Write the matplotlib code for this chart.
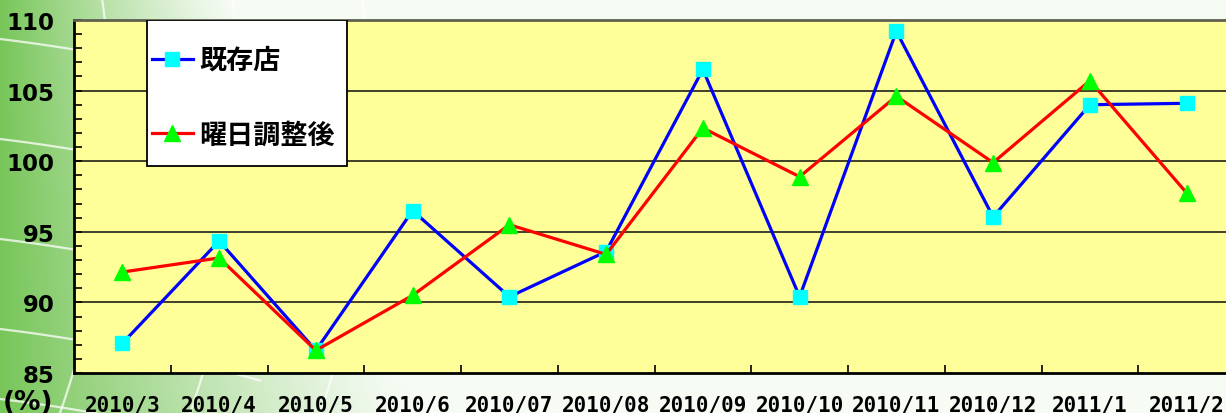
import numpy as np
import matplotlib.pyplot as plt
from matplotlib.patches import Rectangle

plt.rcParams['font.family'] = ['Noto Sans CJK JP', 'DejaVu Sans']

months = ['2010/3', '2010/4', '2010/5', '2010/6', '2010/07', '2010/08',
          '2010/09', '2010/10', '2010/11', '2010/12', '2011/1', '2011/2']
existing = [87.1, 94.35, 86.6, 96.5, 90.4, 93.6, 106.5, 90.4, 109.2, 96.05, 104.0, 104.1]
adjusted = [92.15, 93.15, 86.6, 90.5, 95.5, 93.4, 102.35, 98.9, 104.6, 99.9, 105.7, 97.75]
series_names = ['既存店', '曜日調整後']
yticks = [85, 90, 95, 100, 105, 110]

W, H = 1226, 414
fig = plt.figure(figsize=(W / 100, H / 100), dpi=100)

# green gradient background with a few white arcs on the left
bg = fig.add_axes([0, 0, 1, 1], zorder=-10)
xx, yy = np.meshgrid(np.arange(W), np.arange(H))
g = np.clip(1 - xx / (230 + 0.45 * yy), 0, 1) ** 1.2
green = np.array([120, 198, 90]) / 255
white = np.array([246, 251, 244]) / 255
img = white + (green - white) * g[..., None]
bg.imshow(img, extent=[0, W, H, 0], aspect='auto')
for x0 in [-60, 60, 190, 320]:
    yv = np.linspace(0, H, 50)
    bg.plot(x0 + 0.35 * (H - yv) - 0.0006 * (H - yv) ** 2, yv, color='white', lw=1.6, alpha=0.75)
for y0 in [40, 140, 240, 330, 400]:
    xv = np.linspace(0, 260, 50)
    bg.plot(xv, y0 + 0.12 * xv + 0.0003 * xv ** 2, color='white', lw=1.6, alpha=0.75)
bg.set_xlim(0, W)
bg.set_ylim(H, 0)
bg.axis('off')

ax = fig.add_axes([74 / W, 40 / H, 1161 / W, 353 / H])
ax.set_facecolor('#ffff99')
x = np.arange(len(months))
ax.plot(x, existing, color='#0000ff', lw=2.3, marker='s', ms=10,
        mfc='#00ffff', mec='#00ffff', label=series_names[0], zorder=3)
ax.plot(x, adjusted, color='#ff0000', lw=2.3, marker='^', ms=12,
        mfc='#00ff00', mec='#00ff00', label=series_names[1], zorder=3)

ax.set_xlim(-0.5, len(months) - 0.5)
ax.set_ylim(85, 110)
ax.set_yticks(yticks)
ax.set_yticks(np.arange(85, 111, 1), minor=True)
ax.set_yticklabels([str(v) for v in yticks], fontsize=16.5, fontweight='bold',
                   family='DejaVu Sans')
ax.set_xticks(x)
ax.set_xticklabels(months, fontsize=15, fontweight='bold', family='DejaVu Sans Mono')
ax.set_xticks(np.arange(0.5, len(months) - 0.5, 1), minor=True)
ax.tick_params(axis='x', which='major', length=0, pad=15.5)
ax.tick_params(axis='x', which='minor', direction='in', length=6, width=1.2)
ax.tick_params(axis='y', which='major', direction='in', length=6, width=1.2, pad=14)
ax.tick_params(axis='y', which='minor', direction='in', length=6, width=1.2)
for v in yticks[1:-1]:
    ax.axhline(v, color='#303020', lw=1.3, zorder=1)
ax.spines['left'].set_linewidth(2)
ax.spines['bottom'].set_linewidth(2)
ax.spines['top'].set_color('#606050')
ax.spines['top'].set_linewidth(2)

# legend box drawn separately so its padding can match
ax.add_patch(Rectangle((73 / 1161, 1 - 146 / 353), 200 / 1161, 146 / 353,
                       transform=ax.transAxes, facecolor='white', edgecolor='black',
                       lw=1.3, zorder=4))
leg = ax.legend(loc='upper left', bbox_to_anchor=(78 / 1161, 1 - 26 / 353),
                frameon=False, borderpad=0, borderaxespad=0,
                handlelength=1.5, handletextpad=0.25, labelspacing=1.72,
                prop={'weight': 'bold', 'size': 19.5})
leg.set_zorder(5)

fig.text(3 / W, 1 - 403 / H, '(%)', fontsize=19, fontweight='bold',
         family='DejaVu Sans', va='center', ha='left')

fig.savefig('out.png', dpi=100)
